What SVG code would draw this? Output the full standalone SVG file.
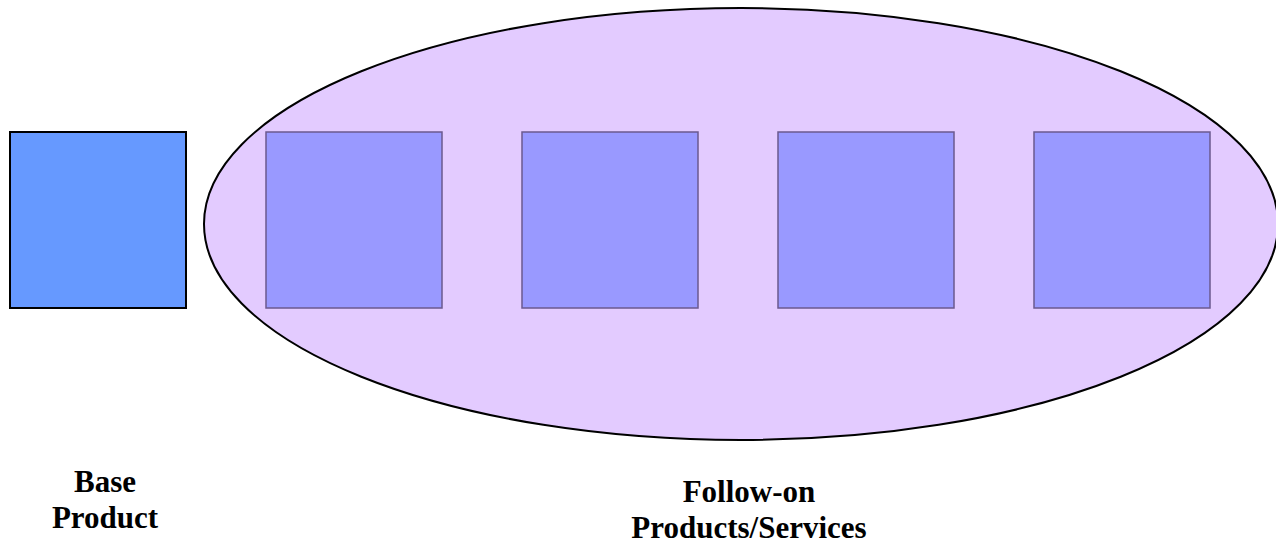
<svg xmlns="http://www.w3.org/2000/svg" width="1276" height="544" viewBox="0 0 1276 544">
  <style>
    .label { font-family: "Liberation Serif", "Times New Roman", serif; font-weight: bold; font-size: 31px; fill: #000; text-anchor: middle; }
    .item { fill: #9999FF; stroke: #6B5A8E; stroke-width: 1.5; }
  </style>
  <rect width="1276" height="544" fill="#ffffff"/>
  <g id="follow-on-group">
    <ellipse cx="741" cy="224" rx="537" ry="216" fill="#E3CBFF" stroke="#000000" stroke-width="2"/>
  </g>
  <g id="base-product">
    <rect x="10" y="132" width="176" height="176" fill="#6699FF" stroke="#000000" stroke-width="2"/>
  </g>
  <g id="follow-on-1"><rect class="item" x="266" y="132" width="176" height="176"/></g>
  <g id="follow-on-2"><rect class="item" x="522" y="132" width="176" height="176"/></g>
  <g id="follow-on-3"><rect class="item" x="778" y="132" width="176" height="176"/></g>
  <g id="follow-on-4"><rect class="item" x="1034" y="132" width="176" height="176"/></g>
  <g id="connectors"></g>
  <g id="labels">
    <text class="label" x="105" y="492">Base</text>
    <text class="label" x="105" y="528">Product</text>
    <text class="label" x="749" y="502">Follow-on</text>
    <text class="label" x="749" y="538">Products/Services</text>
  </g>
</svg>
